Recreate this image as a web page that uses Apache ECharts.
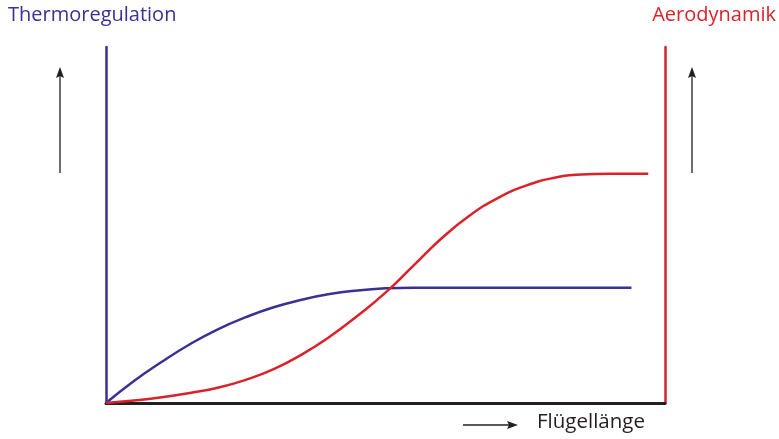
<!DOCTYPE html>
<html>
<head>
<meta charset="utf-8">
<script src="https://cdn.jsdelivr.net/npm/echarts@6/dist/echarts.min.js"></script>
<style>html,body{margin:0;padding:0;background:#fff}#c{width:779px;height:439px}</style>
</head>
<body>
<div id="c"></div>
<script>
// Data (x: relative wing length 0-100, y: relative effect 0-100)
const xValues = [0, 5, 10, 15, 20, 25, 30, 35, 40, 45, 50, 55, 60, 65, 70, 75, 80, 85, 90, 94, 97];
const thermo  = [0, 6.2, 11.6, 16.5, 20.7, 24.1, 26.9, 29.0, 30.6, 31.6, 32.2, 32.4, 32.4, 32.4, 32.4, 32.4, 32.4, 32.4, 32.4, 32.4, null];
const aero    = [0, 0.7, 1.6, 2.8, 4.3, 6.5, 9.5, 13.6, 18.6, 24.5, 31.0, 38.6, 46.2, 52.6, 57.5, 61.0, 63.2, 64.2, 64.4, 64.4, 64.4];
const labels = { left: 'Thermoregulation', right: 'Aerodynamik', x: 'Flügellänge' };

const PURPLE = '#3b3194';
const RED = '#d9232b';
const DARK = '#231f20';
const FONT = 'Open Sans';

const toPairs = (ys) => xValues.map((x, i) => [x, ys[i]]).filter(p => p[1] !== null);

const chart = echarts.init(document.getElementById('c'), null, { renderer: 'canvas' });
chart.setOption({
  animation: false,
  grid: { left: 106, right: 114, top: 47, bottom: 36, containLabel: false },
  xAxis: {
    type: 'value', min: 0, max: 100,
    axisLine: { show: true, onZero: false, lineStyle: { color: DARK, width: 3 } },
    axisTick: { show: false }, axisLabel: { show: false }, splitLine: { show: false }
  },
  yAxis: [
    { type: 'value', min: 0, max: 100, position: 'left',
      axisLine: { show: true, onZero: false, lineStyle: { color: PURPLE, width: 2.5 } },
      axisTick: { show: false }, axisLabel: { show: false }, splitLine: { show: false } },
    { type: 'value', min: 0, max: 100, position: 'right',
      axisLine: { show: true, onZero: false, lineStyle: { color: RED, width: 2.5 } },
      axisTick: { show: false }, axisLabel: { show: false }, splitLine: { show: false } }
  ],
  series: [
    { type: 'line', name: labels.left, data: toPairs(thermo), smooth: true, showSymbol: false,
      lineStyle: { color: PURPLE, width: 2.5 }, z: 3 },
    { type: 'line', name: labels.right, data: toPairs(aero), smooth: true, showSymbol: false,
      lineStyle: { color: RED, width: 2.5 }, z: 4 }
  ],
  graphic: [
    { type: 'text', left: 8, top: 5, style: { text: labels.left, fill: PURPLE, font: '20px "' + FONT + '"' } },
    { type: 'text', right: 3, top: 5, style: { text: labels.right, fill: RED, font: '20px "' + FONT + '"' } },
    { type: 'text', left: 537, top: 412, style: { text: labels.x, fill: DARK, font: '20.5px "' + FONT + '"' } },
    // left up arrow
    { type: 'line', shape: { x1: 60, y1: 173, x2: 60, y2: 74 }, style: { stroke: DARK, lineWidth: 1.3 } },
    { type: 'polygon', shape: { points: [[60, 67], [56, 78], [60, 76], [64, 78]] }, style: { fill: DARK } },
    // right up arrow
    { type: 'line', shape: { x1: 692, y1: 173, x2: 692, y2: 74 }, style: { stroke: DARK, lineWidth: 1.3 } },
    { type: 'polygon', shape: { points: [[692, 67], [688, 78], [692, 76], [696, 78]] }, style: { fill: DARK } },
    // bottom right arrow
    { type: 'line', shape: { x1: 463, y1: 425, x2: 512, y2: 425 }, style: { stroke: DARK, lineWidth: 1.3 } },
    { type: 'polygon', shape: { points: [[518, 425], [507, 421], [509, 425], [507, 429]] }, style: { fill: DARK } }
  ]
});
</script>
</body>
</html>
